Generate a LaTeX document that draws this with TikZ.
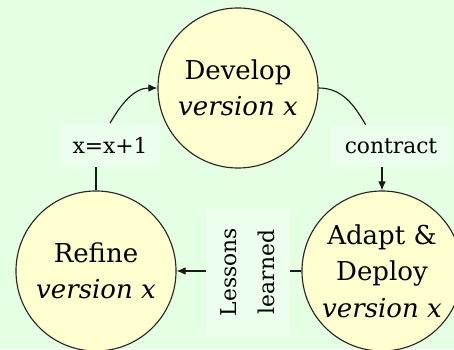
\documentclass[tikz,border=0pt]{standalone}
\usepackage{fontspec}
\setmainfont{DejaVu Serif}
\usetikzlibrary{arrows.meta}
\definecolor{mint}{RGB}{228,255,228}
\definecolor{cream}{RGB}{255,255,208}
\definecolor{lblfill}{RGB}{236,255,236}

\begin{document}
\begin{tikzpicture}[x=0.025cm,y=0.025cm,
    >={Latex[length=6.5pt,width=5.5pt]},
    phase/.style={circle, draw=black!85, line width=0.8pt, fill=cream,
                  minimum size=4cm, inner sep=0pt, align=center,
                  font=\fontsize{18.5}{26}\selectfont},
    lbl/.style={fill=lblfill, inner sep=0pt, align=center,
                font=\fontsize{15.5}{27}\selectfont},
    link/.style={line width=0.8pt, draw=black!90}]

  \fill [mint] (0,0) rectangle (454,349);
  \useasboundingbox (0,0) rectangle (454,349);

  % the three phases
  \node [phase] (develop) at (238,261) {Develop\\\textit{version x}};
  \node [phase] (refine)  at (96,78)   {Refine\\\textit{version x}};
  \node [phase] (adapt)   at (382,78)  {Adapt \&\\Deploy\\\textit{version x}};

  % labels on the links
  \node [lbl, minimum width=2.5cm, minimum height=1.075cm] (inc)
        at (110,204) {x=x+1};
  \node [lbl, minimum width=3.05cm, minimum height=1.05cm] (contract)
        at (391,203) {contract};
  \node [lbl, rotate=90, minimum width=3.125cm, minimum height=2.075cm]
        (lessons) at (248,77) {Lessons\\learned};

  \draw [link] (refine.north) -- (refine.north |- inc.south);
  \draw [link,->] (inc.north) to[out=60,in=180] (develop.west);

  \draw [link] (develop.east) to[out=0,in=120] (contract.140);
  \draw [link,->] (contract.south -| adapt.north) -- (adapt.north);

  \draw [link] (adapt.west) -- (adapt.west -| lessons.south);
  \draw [link,->] (lessons.north |- refine.east) -- (refine.east);

\end{tikzpicture}
\end{document}
